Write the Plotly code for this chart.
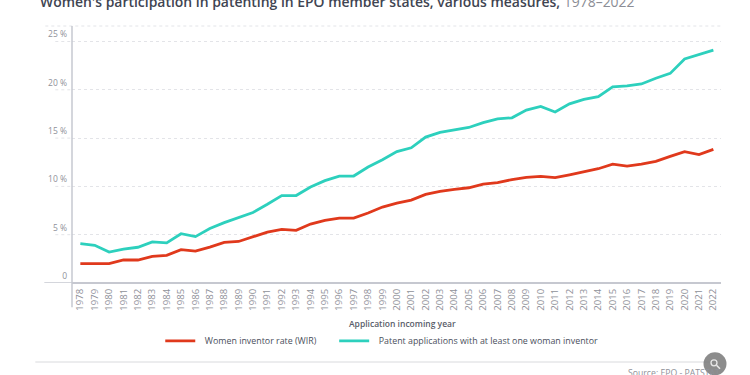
import plotly.graph_objects as go

years = list(range(1978, 2023))
wir = [2.0, 2.0, 2.0, 2.38, 2.38, 2.76, 2.86, 3.45, 3.3, 3.72, 4.2, 4.3, 4.8, 5.27, 5.55, 5.45,
       6.1, 6.48, 6.72, 6.72, 7.24, 7.86, 8.27, 8.58, 9.17, 9.48, 9.7, 9.86, 10.24, 10.4, 10.7,
       10.93, 11.03, 10.9, 11.2, 11.5, 11.83, 12.3, 12.1, 12.3, 12.6, 13.1, 13.6, 13.3, 13.83]
one_woman = [4.07, 3.9, 3.2, 3.5, 3.7, 4.25, 4.15, 5.1, 4.8, 5.65, 6.25, 6.75, 7.3, 8.15, 9.05, 9.05,
             9.93, 10.6, 11.07, 11.07, 12.0, 12.76, 13.6, 14.0, 15.1, 15.6, 15.86, 16.1, 16.6, 17.0, 17.1,
             17.9, 18.27, 17.7, 18.55, 19.0, 19.3, 20.3, 20.4, 20.6, 21.2, 21.7, 23.2, 23.65, 24.1]
y_ticks = [0, 5, 10, 15, 20, 25]
y_labels = ["0", "5 %", "10 %", "15 %", "20 %", "25 %"]
series_names = ["Women inventor rate (WIR)", "Patent applications with at least one woman inventor"]
title_main = "Women's participation in patenting in EPO member states, various measures,"
title_span = "1978–2022"
x_title = "Application incoming year"
source = "Source: EPO - PATSTAT"

FONT = "Open Sans, sans-serif"
W, H = 750, 375
L, R, T, B = 71.7, 721, 25.7, 282.7
GRID = "#e3e4e8"
AXIS = "#c6c8d0"
TICK = "#8f9199"
DARK = "#4a4f5c"
GAP = "\u00a0\u00a0"

def px(x): return (x - L) / (R - L)
def py(y): return (B - y) / (B - T)

fig = go.Figure()
fig.add_trace(go.Scatter(x=years, y=wir, name=GAP + series_names[0], mode="lines", showlegend=True,
                         line=dict(color="#e0391c", width=2.8), legend="legend"))
fig.add_trace(go.Scatter(x=years, y=one_woman, name=GAP + series_names[1], mode="lines", showlegend=True,
                         line=dict(color="#2dd0bd", width=2.8), legend="legend2"))

shapes = []
for v in y_ticks[1:]:
    shapes.append(dict(type="line", xref="paper", yref="y", x0=px(55), x1=0, y0=v, y1=v,
                       line=dict(color=GRID, width=1, dash="dot"), layer="below"))
# top border line
shapes.append(dict(type="line", xref="paper", yref="paper", x0=px(45), x1=1, y0=1, y1=1,
                   line=dict(color=GRID, width=1, dash="dot"), layer="below"))
# axis lines
shapes.append(dict(type="line", xref="paper", yref="y", x0=px(44), x1=0, y0=0, y1=0,
                   line=dict(color=AXIS, width=1.5)))
shapes.append(dict(type="line", xref="paper", yref="paper", x0=0, x1=0, y0=py(307), y1=1,
                   line=dict(color=AXIS, width=1.5)))
# bottom rule
shapes.append(dict(type="line", xref="paper", yref="paper", x0=px(35), x1=px(715),
                   y0=py(361.7), y1=py(361.7), line=dict(color="#d9dadd", width=1)))
# zoom button
cx, cy, r = 715, 363.5, 11.5
shapes.append(dict(type="circle", xref="paper", yref="paper", x0=px(cx - r), x1=px(cx + r),
                   y0=py(cy + r), y1=py(cy - r), fillcolor="rgba(120,120,120,0.85)", line=dict(width=0)))
shapes.append(dict(type="circle", xref="paper", yref="paper", x0=px(cx - 4), x1=px(cx + 2),
                   y0=py(cy + 2), y1=py(cy - 4), line=dict(color="#e8e8e8", width=1.3)))
shapes.append(dict(type="line", xref="paper", yref="paper", x0=px(cx + 1.5), x1=px(cx + 5),
                   y0=py(cy + 1.5), y1=py(cy + 5), line=dict(color="#e8e8e8", width=1.6)))

fig.update_layout(
    width=W, height=H, autosize=False, showlegend=True,
    margin=dict(l=L, r=W - R, t=T, b=H - B, pad=0),
    paper_bgcolor="white", plot_bgcolor="white",
    font=dict(family=FONT, color=TICK),
    title=dict(text=f"{title_main} <span style='font-weight:400;color:#8b8d95'>{title_span}</span>",
               font=dict(family=FONT, size=13.95, color="#3f4552", weight=600),
               x=40 / W, xanchor="left", xref="container",
               y=1 - 2 / H, yanchor="middle", yref="container"),
    xaxis=dict(range=[1978 - 0.58, 2022 + 0.53], tickmode="array", tickvals=years,
               ticktext=[str(y) for y in years], tickangle=-90, tickfont=dict(size=9.5, color=TICK),
               ticks="", ticklabelstandoff=3, showgrid=False, zeroline=False, showline=False),
    yaxis=dict(range=[0, (B - T) / 9.66], tickmode="array", tickvals=y_ticks, ticktext=y_labels,
               tickfont=dict(size=8.5, color=TICK), ticks="", ticklabelshift=-7, ticklabelstandoff=4,
               showgrid=True, gridcolor=GRID, griddash="dot", gridwidth=1,
               zeroline=True, zerolinecolor=AXIS, zerolinewidth=1.5, showline=False),
    legend=dict(orientation="h", x=px(160), xanchor="left", y=py(340.5), yanchor="middle",
                itemwidth=30, font=dict(size=8.85, color=DARK), bgcolor="rgba(0,0,0,0)"),
    legend2=dict(orientation="h", x=px(334), xanchor="left", y=py(340.5), yanchor="middle",
                 itemwidth=30, font=dict(size=8.85, color=DARK), bgcolor="rgba(0,0,0,0)"),
    shapes=shapes,
    annotations=[
        dict(text=x_title, xref="paper", yref="paper", x=px(402.5), y=py(322.7), xanchor="center",
             yanchor="middle", showarrow=False, font=dict(size=8.5, color="#595d69", weight=600)),
        dict(text=source, xref="paper", yref="paper", x=px(625.5), y=py(373), xanchor="left",
             yanchor="middle", showarrow=False, font=dict(size=8.7, color=TICK)),
    ],
)

fig.write_html("out.html", post_script="document.body.style.margin='0';", config={"displayModeBar": False})
